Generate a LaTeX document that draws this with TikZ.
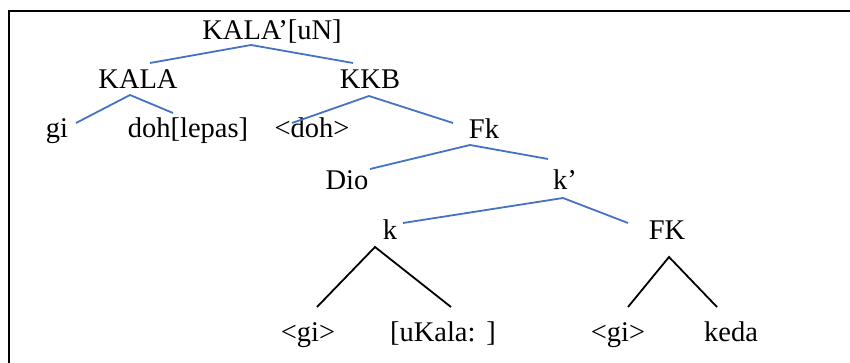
\documentclass[tikz,border=0pt]{standalone}
\usepackage{fontspec}
\setmainfont{Liberation Serif}
\begin{document}
\begin{tikzpicture}[x=1pt,y=-1pt,
  lbl/.style={anchor=base,inner sep=0pt,font=\fontsize{28.5}{30}\selectfont},
  blue line/.style={draw=blueline,line width=1.8pt},
  black line/.style={draw=black,line width=1.8pt}]
\definecolor{blueline}{HTML}{4472C4}
\useasboundingbox (0,0) rectangle (850,363);
\draw[line width=2.8pt] (9,363) -- (9,11) -- (850,11);
% nodes
\node[lbl] (root) at (272,40) {KALA’[uN]};
\node[lbl] (kala) at (138,89) {KALA};
\node[lbl] (kkb) at (370,89) {KKB};
\node[lbl] (gi) at (57,138) {gi};
\node[lbl] (doh) at (188,138) {doh[lepas]};
\node[lbl] (dohc) at (312,138) {<doh>};
\node[lbl] (fk) at (484,139) {Fk};
\node[lbl] (dio) at (347,190) {Dio};
\node[lbl] (kp) at (565,190) {k’};
\node[lbl] (k) at (390,239) {k};
\node[lbl] (FK) at (667,240) {FK};
\node[lbl] (gia) at (308,341) {<gi>};
\node[lbl] (ukala) at (443,341) {[uKala:\hspace{11pt}]};
\node[lbl] (gib) at (618,341) {<gi>};
\node[lbl] (keda) at (731,341) {keda};
% blue connectors
\draw[blue line] ([shift={(12,-26)}]kala.base) -- ([shift={(-21,5)}]root.base) -- ([shift={(-17,-26)}]kkb.base);
\draw[blue line] ([shift={(19,-15)}]gi.base) -- ([shift={(-8,6)}]kala.base) -- ([shift={(-15,-25)}]doh.base);
\draw[blue line] ([shift={(-20,-15)}]dohc.base) -- ([shift={(-1,7)}]kkb.base) -- ([shift={(-31,-16)}]fk.base);
\draw[blue line] ([shift={(23,-21)}]dio.base) -- ([shift={(-14,6)}]fk.base) -- ([shift={(-17,-31)}]kp.base);
\draw[blue line] ([shift={(13,-16)}]k.base) -- ([shift={(-2,8)}]kp.base) -- ([shift={(-39,-17)}]FK.base);
% black connectors
\draw[black line] ([shift={(9,-34)}]gia.base) -- ([shift={(-15,8)}]k.base) -- ([shift={(8,-34)}]ukala.base);
\draw[black line] ([shift={(10,-34)}]gib.base) -- ([shift={(2,17)}]FK.base) -- ([shift={(-14,-34)}]keda.base);
\end{tikzpicture}
\end{document}
